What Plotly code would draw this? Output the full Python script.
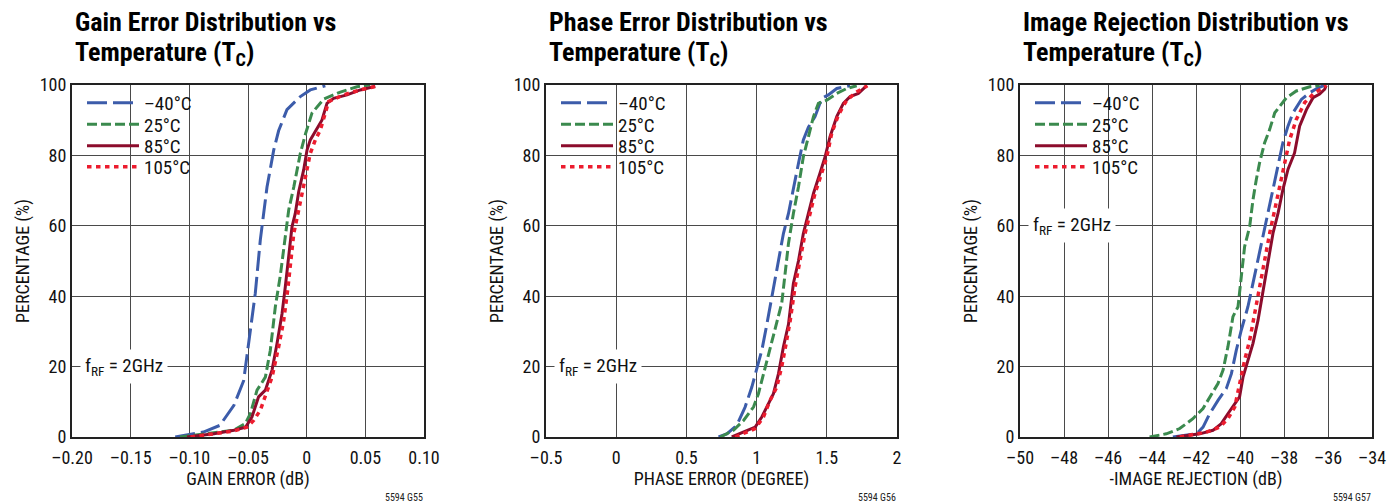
import plotly.graph_objects as go

# ---------------- DATA ----------------
series_names = ["–40°C", "25°C", "85°C", "105°C"]

# Panel 1: Gain error (dB) vs cumulative percentage
gain_m40_x = [-0.112, -0.088, -0.074, -0.062, -0.0537, -0.0494, -0.0438, -0.0395, -0.0338, -0.0281, -0.0239, -0.0168, -0.0054, 0.0031, 0.0159]
gain_m40_y = [0, 1.4, 3.3, 9, 16, 26.5, 40.8, 56, 71, 81.5, 87, 93, 96.7, 98.6, 99.8]
gain_25_x = [-0.108, -0.0793, -0.0622, -0.0523, -0.048, -0.0423, -0.0352, -0.031, -0.0267, -0.0224, -0.0182, -0.0153, -0.011, -0.0054, -0.0011, 0.0045, 0.0145, 0.0287, 0.0429, 0.054]
gain_25_y = [0, 1.2, 1.9, 3.8, 6.6, 13.3, 17, 24.6, 37, 46, 58, 64.5, 71, 80.6, 86, 92, 96, 98, 99.5, 100]
gain_85_x = [-0.102, -0.079, -0.062, -0.052, -0.0466, -0.041, -0.0352, -0.0295, -0.0253, -0.021, -0.0182, -0.0153, -0.0125, -0.0097, -0.0068, -0.0026, 0.0003, 0.0031, 0.0088, 0.013, 0.0173, 0.023, 0.0344, 0.0457, 0.0585]
gain_85_y = [0, 0.9, 1.9, 2.8, 5.7, 11.4, 13.3, 19, 26.5, 35, 42.7, 51, 59.7, 63.5, 69.7, 75.8, 81.5, 84.4, 87.7, 90, 94.8, 96.2, 97.2, 98.6, 99.6]
gain_105_x = [-0.099, -0.062, -0.0509, -0.0452, -0.0395, -0.0338, -0.0295, -0.0239, -0.0196, -0.0162, -0.0134, -0.011, -0.0074, -0.004, 0.0003, 0.0031, 0.0074, 0.0116, 0.0159, 0.0187, 0.0315, 0.0457, 0.06]
gain_105_y = [0, 1.7, 2.8, 4.7, 7.6, 13.3, 17, 25.6, 33, 41.7, 50, 57.8, 63.5, 69.2, 75.8, 80.6, 84.4, 87.2, 92, 95.3, 97.2, 98.6, 99.7]

# Panel 2: Phase error (degree)
phase_m40_x = [0.729, 0.788, 0.859, 0.918, 0.966, 1.001, 1.037, 1.073, 1.12, 1.156, 1.191, 1.227, 1.262, 1.298, 1.333, 1.369, 1.416, 1.464, 1.511, 1.571, 1.666]
phase_m40_y = [0, 0.9, 3.3, 8.5, 14.2, 19, 24.6, 32, 42.7, 50, 57.8, 63.5, 71, 77.7, 84.4, 88, 91, 96.2, 97.2, 99, 99.8]
phase_25_x = [0.741, 0.835, 0.907, 0.978, 1.013, 1.049, 1.096, 1.144, 1.179, 1.203, 1.227, 1.262, 1.298, 1.333, 1.369, 1.405, 1.44, 1.5, 1.571, 1.642, 1.713]
phase_25_y = [0, 1.9, 4.7, 8.5, 12.3, 18, 25.6, 33, 38, 46.4, 55, 63.5, 71, 79.6, 85.3, 91, 94.8, 95.7, 97.6, 99, 99.8]
phase_85_x = [0.823, 0.907, 0.99, 1.037, 1.073, 1.12, 1.156, 1.191, 1.227, 1.262, 1.298, 1.333, 1.369, 1.405, 1.452, 1.488, 1.523, 1.571, 1.618, 1.666, 1.725, 1.784]
phase_85_y = [0, 1.4, 2.8, 5.7, 8.5, 12.3, 18, 25.6, 32, 43.6, 50, 57.8, 63.5, 69.2, 75, 79.6, 85.3, 91, 94.8, 96.7, 97.6, 99.8]
phase_105_x = [0.847, 0.99, 1.049, 1.096, 1.144, 1.179, 1.21, 1.239, 1.274, 1.31, 1.345, 1.381, 1.416, 1.464, 1.5, 1.535, 1.583, 1.642, 1.713, 1.789]
phase_105_y = [0, 2.4, 5.7, 10.4, 14.2, 20, 26.5, 33, 42.7, 50, 57.8, 63.5, 69.2, 75, 79.6, 86.3, 91.5, 95.7, 98, 99.8]

# Panel 3: -Image rejection (dB)
ir_m40_x = [-43.05, -41.98, -41.68, -41.38, -41.0, -40.62, -40.39, -40.17, -39.94, -39.64, -39.41, -39.18, -38.95, -38.73, -38.5, -38.27, -38.05, -37.82, -37.59, -37.21, -36.83, -36.45, -36.15]
ir_m40_y = [0, 0.9, 2.8, 6.6, 10.4, 13.8, 18, 24.6, 30.4, 37, 43.7, 50.3, 57.9, 63.6, 70.3, 76.9, 83.6, 88.3, 92.1, 95.9, 97.8, 99.2, 99.9]
ir_25_x = [-44.11, -43.35, -42.74, -42.14, -41.68, -41.3, -41.0, -40.77, -40.55, -40.32, -40.09, -39.94, -39.79, -39.56, -39.41, -39.26, -39.11, -38.88, -38.65, -38.42, -38.2, -37.89, -37.44, -36.83, -36.38]
ir_25_y = [0, 0.9, 2.4, 5.2, 8.1, 11.9, 15.2, 19, 25.6, 34.2, 37, 45.6, 54.1, 59.8, 67.4, 73.1, 77.9, 83.6, 87.4, 92.1, 94, 96.4, 98.3, 99.5, 99.9]
ir_85_x = [-42.89, -41.83, -41.23, -40.85, -40.55, -40.24, -40.02, -39.86, -39.64, -39.41, -39.18, -38.95, -38.73, -38.5, -38.27, -38.05, -37.82, -37.52, -37.29, -36.98, -36.68, -36.38, -36.15, -36.08]
ir_85_y = [0, 0.9, 1.9, 3.8, 6.6, 9.5, 11.4, 17.1, 21.8, 26.6, 33.2, 41.8, 50.3, 57.9, 63.6, 70.3, 76, 80.7, 88.3, 93, 96.4, 97.4, 98.8, 99.9]
ir_105_x = [-42.74, -41.53, -40.92, -40.55, -40.24, -40.02, -39.79, -39.56, -39.33, -39.11, -38.88, -38.65, -38.42, -38.2, -37.97, -37.74, -37.44, -37.06, -36.68, -36.3, -36.08]
ir_105_y = [0, 1.4, 2.8, 5.2, 8.5, 15.2, 21.8, 27.5, 35.1, 43.7, 51.3, 57.9, 64.6, 71.2, 77.9, 84.5, 90.2, 95, 97.4, 98.8, 99.9]

# Axis ticks
gain_ticks = [-0.20, -0.15, -0.10, -0.05, 0, 0.05, 0.10]
gain_ticktext = ["–0.20", "–0.15", "–0.10", "–0.05", "0", "0.05", "0.10"]
phase_ticks = [-0.5, 0, 0.5, 1, 1.5, 2]
phase_ticktext = ["–0.5", "0", "0.5", "1", "1.5", "2"]
ir_ticks = [-50, -48, -46, -44, -42, -40, -38, -36, -34]
ir_ticktext = ["–50", "–48", "–46", "–44", "–42", "–40", "–38", "–36", "–34"]
pct_ticks = [0, 20, 40, 60, 80, 100]
pct_ticktext = ["0", "20", "40", "60", "80", "100"]

# ---------------- STYLE ----------------
W, H = 1387, 503
FONT = "Liberation Sans Narrow, Roboto Condensed, Arial Narrow, Roboto, sans-serif"
colors = ["#3c5caa", "#3b8a4e", "#8c0c2c", "#ec1c2e"]
dashes = ["20px,6px", "10px,4px", "solid", "4.5px,4.5px"]
widths = [3, 3, 3, 3.5]
legend_rows_px = [103, 124.5, 146, 167]

panels = [
    dict(data=[(gain_m40_x, gain_m40_y), (gain_25_x, gain_25_y), (gain_85_x, gain_85_y), (gain_105_x, gain_105_y)],
         px=(72, 424), xr=[-0.2, 0.1], ticks=gain_ticks, ticktext=gain_ticktext,
         xtitle="GAIN ERROR (dB)", title=("Gain Error Distribution vs", "Temperature (T<sub>C</sub>)"),
         note_y=20, code="5594 G55"),
    dict(data=[(phase_m40_x, phase_m40_y), (phase_25_x, phase_25_y), (phase_85_x, phase_85_y), (phase_105_x, phase_105_y)],
         px=(546, 897), xr=[-0.5, 2], ticks=phase_ticks, ticktext=phase_ticktext,
         xtitle="PHASE ERROR (DEGREE)", title=("Phase Error Distribution vs", "Temperature (T<sub>C</sub>)"),
         note_y=20, code="5594 G56"),
    dict(data=[(ir_m40_x, ir_m40_y), (ir_25_x, ir_25_y), (ir_85_x, ir_85_y), (ir_105_x, ir_105_y)],
         px=(1020, 1372), xr=[-50, -34], ticks=ir_ticks, ticktext=ir_ticktext,
         xtitle="-IMAGE REJECTION (dB)", title=("Image Rejection Distribution vs", "Temperature (T<sub>C</sub>)"),
         note_y=60, code="5594 G57"),
]

ytop, ybot = 85, 437
ydom = [(H - ybot) / H, (H - ytop) / H]

fig = go.Figure()
layout = dict(width=W, height=H, margin=dict(l=0, r=0, t=0, b=0, autoexpand=False),
              paper_bgcolor="white", plot_bgcolor="white",
              font=dict(family=FONT, size=18, color="#111"),
              annotations=[], shapes=[])

for i, p in enumerate(panels):
    n = "" if i == 0 else str(i + 1)
    xa, ya = "x" + n, "y" + n
    x0, x1 = p["px"]
    for k, (xs, ys) in enumerate(p["data"]):
        idx = i * 4 + k + 1
        leg = "legend" if idx == 1 else "legend" + str(idx)
        fig.add_trace(go.Scatter(
            x=xs, y=ys, mode="lines", name=series_names[k],
            line=dict(color=colors[k], width=widths[k], dash=dashes[k]),
            xaxis=xa, yaxis=ya, legend=leg, showlegend=True))
        layout[leg] = dict(x=(x0 + 10) / W, y=(H - legend_rows_px[k]) / H,
                           xanchor="left", yanchor="middle",
                           bgcolor="rgba(0,0,0,0)", borderwidth=0, itemwidth=52,
                           font=dict(size=19, family=FONT, color="#111"),
                           itemclick=False, itemdoubleclick=False)
    # white backing behind the legend block (hides gridlines)
    layout["shapes"].append(dict(type="rect", xref="paper", yref="paper",
                                 x0=(x0 + 10) / W, x1=(x0 + 126) / W,
                                 y0=(H - 181) / H, y1=(H - 92) / H,
                                 fillcolor="white", line=dict(width=0), layer="between"))
    axis_common = dict(showgrid=True, gridcolor="#4a4a4a", gridwidth=1,
                       showline=True, linecolor="#222", linewidth=2, mirror=True,
                       zeroline=False, ticks="", automargin=False,
                       tickfont=dict(size=18, family=FONT))
    layout["xaxis" + n] = dict(domain=[x0 / W, x1 / W], range=p["xr"], anchor=ya,
                               tickmode="array", tickvals=p["ticks"], ticktext=p["ticktext"],
                               ticklabelstandoff=3,
                               title=dict(text=p["xtitle"], font=dict(size=18, family=FONT), standoff=6),
                               **axis_common)
    layout["yaxis" + n] = dict(domain=ydom, range=[0, 100], anchor=xa,
                               tickmode="array", tickvals=pct_ticks, ticktext=pct_ticktext,
                               title=dict(text="PERCENTAGE (%)", font=dict(size=18, family=FONT), standoff=5),
                               **axis_common)
    # title (two lines)
    layout["annotations"].append(dict(
        text="<b>" + p["title"][0] + "</b>", xref="paper", yref="paper",
        x=(x0 + 1) / W, y=1 - 22 / H, xanchor="left", yanchor="middle", align="left",
        showarrow=False, font=dict(size=26, family=FONT, color="#000")))
    layout["annotations"].append(dict(
        text="<b>" + p["title"][1] + "</b>", xref="paper", yref="paper",
        x=(x0 + 1) / W, y=1 - 53 / H, xanchor="left", yanchor="middle", align="left",
        showarrow=False, font=dict(size=26, family=FONT, color="#000")))
    # note
    layout["annotations"].append(dict(
        text="f<sub>RF</sub> = 2GHz", xref=xa, yref=ya, x=p["xr"][0], y=p["note_y"],
        xanchor="left", yanchor="middle", xshift=8, showarrow=False, bgcolor="white",
        borderpad=4, font=dict(size=19, family=FONT, color="#111")))
    # figure code
    layout["annotations"].append(dict(
        text=p["code"], xref="paper", yref="paper", x=(x1 + 1) / W, y=1 - 497 / H,
        xanchor="right", yanchor="middle", showarrow=False,
        font=dict(size=10, family=FONT, color="#222")))

fig.update_layout(**layout)
fig.write_html("out.html", config={"displayModeBar": False, "staticPlot": True},
               post_script="document.body.style.margin='0';document.body.style.padding='0';"
                           "document.body.style.overflow='hidden';")
